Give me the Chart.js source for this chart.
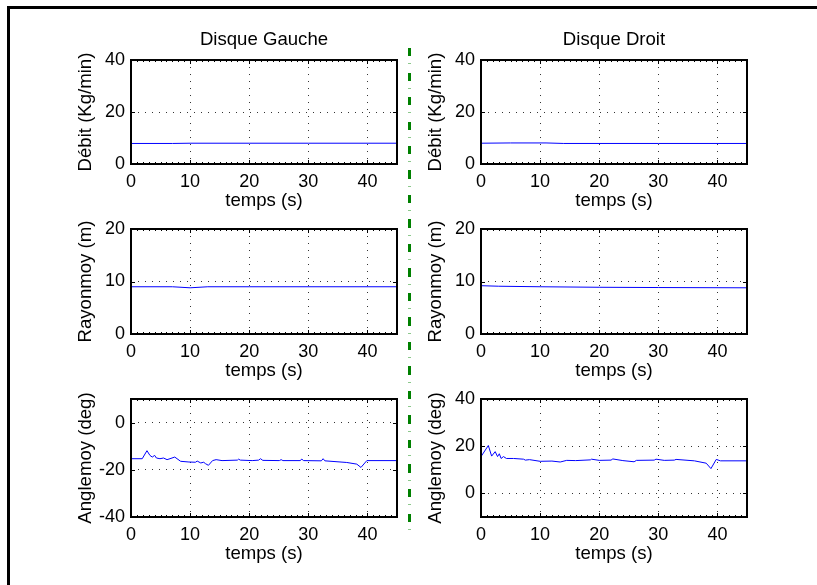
<!DOCTYPE html>
<html>
<head>
<meta charset="utf-8">
<script src="https://cdn.jsdelivr.net/npm/chart.js@4"></script>
<style>
  body { margin: 0; background: #fff; width: 817px; height: 585px; overflow: hidden; position: relative; }
  canvas { position: absolute; }
  #frame { position: absolute; left: 7px; top: 6px; width: 840px; height: 600px;
           border-top: 3px solid #000; border-left: 3px solid #000; }
  #sep { position: absolute; left: 408px; top: 48px; width: 3px; height: 488px;
         background: repeating-linear-gradient(to bottom, #008000 0 8px, transparent 8px 15px,
                     #8cc88c 15px 16px, transparent 16px 24.5px); }
</style>
</head>
<body>
<div id="frame"></div>
<div id="sep"></div>
<canvas id="debitG" width="346" height="199" style="left:61px;top:15px"></canvas>
<canvas id="debitD" width="346" height="199" style="left:411px;top:15px"></canvas>
<canvas id="rayonG" width="346" height="200" style="left:61px;top:184px"></canvas>
<canvas id="rayonD" width="346" height="200" style="left:411px;top:184px"></canvas>
<canvas id="angleG" width="346" height="213" style="left:61px;top:354px"></canvas>
<canvas id="angleD" width="346" height="213" style="left:411px;top:354px"></canvas>
<script>
// Data
const xTicks = [0, 10, 20, 30, 40];

const timeDebitG = [0, 7, 10, 20, 30, 45];
const debitG = [7.9, 7.9, 8.0, 8.0, 8.0, 8.0];
const timeDebitD = [0, 5, 11, 14, 30, 45];
const debitD = [8.0, 8.1, 8.1, 7.9, 7.9, 7.9];
const debitTicks = [0, 20, 40];

const timeRayonG = [0, 7, 10, 13, 20, 45];
const rayonG = [9.0, 9.0, 8.8, 9.0, 9.0, 9.0];
const timeRayonD = [0, 3, 10, 20, 30, 45];
const rayonD = [9.2, 9.1, 9.0, 8.9, 8.85, 8.8];
const rayonTicks = [0, 10, 20];

const timeAngleG = [0, 1.9, 2.7, 3.2, 3.6, 4.0, 4.3, 4.9, 5.5, 6.1,
  6.6, 7.4, 8.4, 9.8, 10.9, 11.2, 11.8, 12.3, 12.6, 13.1,
  13.8, 14.4, 15.4, 18.0, 18.2, 18.5, 20.5, 21.6, 21.9, 22.3,
  25.1, 25.4, 25.7, 28.6, 28.9, 29.2, 32.2, 32.5, 32.8, 36.5,
  38.2, 38.9, 39.9, 45];
const angleG = [-15.3, -15.3, -11.9, -13.9, -14.6, -13.9, -15.0, -15.3, -15.0, -15.7,
  -15.3, -14.6, -16.4, -16.7, -16.8, -16.3, -17.1, -16.8, -17.4, -18.1,
  -16.1, -15.7, -16.1, -15.9, -15.5, -15.9, -16.1, -15.9, -15.3, -16.0,
  -16.1, -15.7, -16.1, -16.1, -15.5, -16.1, -16.2, -15.3, -16.2, -16.9,
  -17.6, -19.0, -16.1, -16.1];
const angleGTicks = [-40, -20, 0];

const timeAngleD = [0, 1.24, 1.8, 2.4, 2.8, 3.1, 3.4, 3.8, 4.3, 5.5,
  7.2, 7.5, 8.2, 10, 12, 13.4, 14.5, 16, 18.5, 18.7,
  20, 22, 22.3, 24, 25.9, 26.3, 29.3, 29.6, 31, 32.7,
  33, 36.1, 38.1, 38.9, 39.8, 40.5, 45];
const angleD = [15.6, 20.3, 15.8, 17.7, 15.6, 16.8, 14.8, 15.6, 14.8, 14.8,
  14.5, 14.1, 14.3, 13.6, 13.7, 13.3, 14.0, 13.9, 14.2, 14.5,
  14.0, 14.1, 14.6, 13.9, 13.4, 14.0, 14.1, 14.5, 14.0, 14.1,
  14.4, 13.8, 12.8, 10.5, 14.4, 13.8, 13.8];
const angleDTicks = [0, 20, 40];

const FONT = "'Liberation Sans', Arial, Helvetica, sans-serif";

// box with inward ticks, like the MATLAB axes
const boxPlugin = {
  id: "box",
  afterDatasetsDraw(chart) {
    const { ctx, chartArea: a, scales } = chart;
    ctx.save();
    ctx.strokeStyle = "#000";
    ctx.lineWidth = 1;
    ctx.beginPath();
    for (let v = 1; v < 45; v++) {
      const px = Math.round(scales.x.getPixelForValue(v)) + 0.5;
      const len = v % 10 === 0 ? 4 : 2;
      ctx.moveTo(px, a.bottom); ctx.lineTo(px, a.bottom - len);
      ctx.moveTo(px, a.top); ctx.lineTo(px, a.top + len);
    }
    scales.y.ticks.forEach((t) => {
      const py = Math.round(scales.y.getPixelForValue(t.value)) + 0.5;
      ctx.moveTo(a.left, py); ctx.lineTo(a.left + 4, py);
      ctx.moveTo(a.right, py); ctx.lineTo(a.right - 4, py);
    });
    ctx.stroke();
    ctx.lineWidth = 2;
    ctx.strokeRect(a.left, a.top, a.right - a.left, a.bottom - a.top);
    ctx.restore();
  },
};

function makeChart(id, times, values, yMin, yMax, yTicks, yTitle, title) {
  new Chart(document.getElementById(id), {
    type: "line",
    data: {
      datasets: [{
        data: times.map((t, i) => ({ x: t, y: values[i] })),
        borderColor: "#0000ff",
        borderWidth: 1,
        pointRadius: 0,
        tension: 0,
      }],
    },
    options: {
      responsive: false,
      animation: false,
      layout: { padding: { top: title ? 0 : 45, right: 10, left: 0, bottom: 0 } },
      plugins: {
        legend: { display: false },
        tooltip: { enabled: false },
        title: {
          display: !!title,
          text: title,
          fullSize: false,
          color: "#000",
          font: { family: FONT, size: 18.6, weight: "normal" },
          padding: { top: 14, bottom: 8.7 },
        },
      },
      scales: {
        x: {
          type: "linear",
          min: 0,
          max: 45,
          afterBuildTicks: (s) => { s.ticks = xTicks.map((v) => ({ value: v })); },
          afterFit: (s) => { s.height = 50; },
          ticks: { color: "#000", padding: 7, font: { family: FONT, size: 18 } },
          grid: { color: "#333", lineWidth: 1, drawTicks: false, borderDash: [1, 6] },
          border: { display: false, dash: [1, 6] },
          title: {
            display: true, text: "temps (s)", color: "#000",
            font: { family: FONT, size: 18.6 }, padding: { top: 0, bottom: 2 },
          },
        },
        y: {
          min: yMin,
          max: yMax,
          afterBuildTicks: (s) => { s.ticks = yTicks.map((v) => ({ value: v })); },
          afterFit: (s) => { s.width = 70; },
          ticks: { color: "#000", padding: 6, font: { family: FONT, size: 18 } },
          grid: { color: "#333", lineWidth: 1, drawTicks: false, borderDash: [1, 6] },
          border: { display: false, dash: [1, 6] },
          title: {
            display: true, text: yTitle, color: "#000",
            font: { family: FONT, size: 18.6 }, padding: { top: 13.6, bottom: 0 },
          },
        },
      },
    },
    plugins: [boxPlugin],
  });
}

makeChart("debitG", timeDebitG, debitG, 0, 40, debitTicks, "Débit (Kg/min)", "Disque Gauche");
makeChart("debitD", timeDebitD, debitD, 0, 40, debitTicks, "Débit (Kg/min)", "Disque Droit");
makeChart("rayonG", timeRayonG, rayonG, 0, 20, rayonTicks, "Rayonmoy (m)", "");
makeChart("rayonD", timeRayonD, rayonD, 0, 20, rayonTicks, "Rayonmoy (m)", "");
makeChart("angleG", timeAngleG, angleG, -40, 10, angleGTicks, "Anglemoy (deg)", "");
makeChart("angleD", timeAngleD, angleD, -10, 40, angleDTicks, "Anglemoy (deg)", "");
</script>
</body>
</html>
